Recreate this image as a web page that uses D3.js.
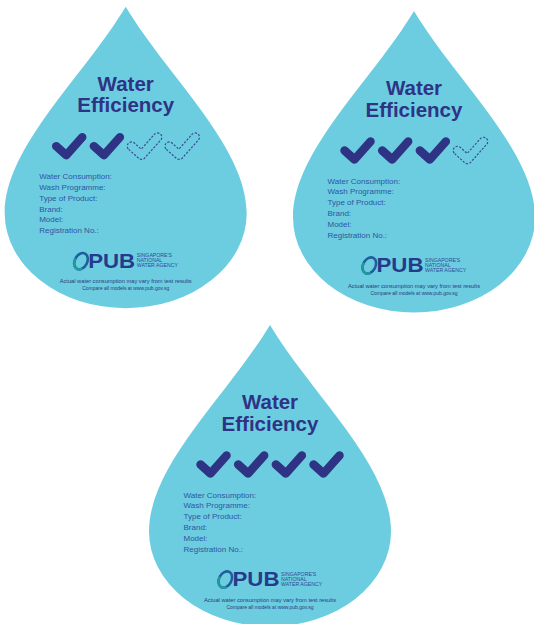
<!DOCTYPE html>
<html>
<head>
<meta charset="utf-8">
<script src="https://cdn.jsdelivr.net/npm/d3@7"></script>
<style>
  body { margin: 0; background: #fff; }
  svg { display: block; }
</style>
</head>
<body>
<script>
let width = 534, height = 624;

// label content
const titleLines = ["Water", "Efficiency"];
const fieldLabels = ["Water Consumption:", "Wash Programme:", "Type of Product:", "Brand:", "Model:", "Registration No.:"];
const ratings = [2, 3, 4];           // ticks earned on each label
const maxTicks = 4;
const agencyLines = ["SINGAPORE'S", "NATIONAL", "WATER AGENCY"];
const footerLines = ["Actual water consumption may vary from test results", "Compare all models at www.pub.gov.sg"];

// where each drop's tip sits on the page
const anchors = [[125.7, 6.7], [414, 11], [270, 325]];

const dropFill = "#6ccde1", navy = "#2f3384", fieldBlue = "#2f55a0";

let svg = d3.select("body").append("svg")
    .attr("width", width)
    .attr("height", height);

// drop outline, relative to the tip
function dropPath() {
    let rx = 121, ry = 95, cy = 206.5;
    let p = d3.path();
    p.moveTo(0, 0);
    p.bezierCurveTo(42, 70, rx, 140, rx, cy);
    return p.toString() + ` A ${rx} ${ry} 0 0 1 ${-rx} ${cy} C ${-rx} 140 -42 70 0 0 Z`;
}

// tick mark polyline, relative to its centre
const A = [-13, 0], B = [-3, 9], C = [13, -9], hw = 4.25;

function tickLine() {
    return `M${A} L${B} L${C}`;
}

// outline of the thick tick, for the empty (dashed) ones
function tickOutline() {
    let unit = (p, q) => { let dx = q[0] - p[0], dy = q[1] - p[1], l = Math.hypot(dx, dy); return [dx / l, dy / l]; };
    let d1 = unit(A, B), d2 = unit(B, C);
    let n1 = [-d1[1], d1[0]], n2 = [-d2[1], d2[0]];
    let off = (p, n, s) => [p[0] + s * hw * n[0], p[1] + s * hw * n[1]];
    let k = hw / (1 + n1[0] * n2[0] + n1[1] * n2[1]);
    let inner = [B[0] - k * (n1[0] + n2[0]), B[1] - k * (n1[1] + n2[1])];
    let pts = [off(A, n1, 1), off(B, n1, 1), off(B, n2, 1), off(C, n2, 1), off(C, n2, -1), inner, off(A, n1, -1)];
    return `M${pts[0]} L${pts[1]} A${hw} ${hw} 0 0 0 ${pts[2]} L${pts[3]} A${hw} ${hw} 0 0 0 ${pts[4]} L${pts[5]} L${pts[6]} A${hw} ${hw} 0 0 0 ${pts[0]} Z`;
}

let tickX = d3.scalePoint().domain(d3.range(maxTicks)).range([-56.5, 56.5]);
let fieldY = d3.scaleLinear().domain([0, fieldLabels.length - 1]).range([172.5, 226.5]);

let drops = svg.selectAll("g.drop")
    .data(ratings)
    .join("g")
    .attr("class", "drop")
    .attr("transform", (d, i) => `translate(${anchors[i][0]},${anchors[i][1]})`);

drops.append("path")
    .attr("d", dropPath())
    .attr("fill", dropFill);

// title
drops.selectAll("text.title")
    .data(titleLines)
    .join("text")
    .attr("class", "title")
    .attr("x", 0)
    .attr("y", (d, i) => 84 + i * 21.5)
    .attr("text-anchor", "middle")
    .attr("font-family", "Liberation Sans, Arial, sans-serif")
    .attr("font-weight", "bold")
    .attr("font-size", 20.5)
    .attr("fill", navy)
    .text(d => d);

// ticks
drops.selectAll("g.tick")
    .data(r => d3.range(maxTicks).map(i => ({ i: i, on: i < r })))
    .join("g")
    .attr("class", "tick")
    .attr("transform", d => `translate(${tickX(d.i)},139.5)`)
    .each(function (d) {
        let g = d3.select(this);
        if (d.on) {
            g.append("path")
                .attr("d", tickLine())
                .attr("fill", "none")
                .attr("stroke", navy)
                .attr("stroke-width", hw * 2)
                .attr("stroke-linecap", "round")
                .attr("stroke-linejoin", "round");
        } else {
            g.append("path")
                .attr("d", tickOutline())
                .attr("fill", "none")
                .attr("stroke", "#3b4a96")
                .attr("stroke-width", 1.2)
                .attr("stroke-dasharray", "2.2,1.5");
        }
    });

// product fields
drops.selectAll("text.field")
    .data(fieldLabels)
    .join("text")
    .attr("class", "field")
    .attr("x", -86.5)
    .attr("y", (d, i) => fieldY(i))
    .attr("font-family", "Liberation Sans, Arial, sans-serif")
    .attr("font-size", 8)
    .attr("fill", fieldBlue)
    .text(d => d);

// PUB logo
let logo = drops.append("g").attr("class", "logo");

let swoosh = logo.append("g").attr("transform", "translate(-44.7,254.5) rotate(28)");
swoosh.append("ellipse")
    .attr("rx", 6.2).attr("ry", 8.6)
    .attr("fill", "none")
    .attr("stroke", "#1f5f9c")
    .attr("stroke-width", 2.6);
swoosh.append("path")
    .attr("d", "M-6.2,0 A6.2 8.6 0 0 0 4.5,6")
    .attr("fill", "none")
    .attr("stroke", "#239b9e")
    .attr("stroke-width", 2.4);

logo.append("text")
    .attr("x", -37.5)
    .attr("y", 261)
    .attr("textLength", 47)
    .attr("lengthAdjust", "spacingAndGlyphs")
    .attr("font-family", "Liberation Sans, Arial, sans-serif")
    .attr("font-weight", "bold")
    .attr("font-size", 21)
    .attr("fill", "#263a8c")
    .text("PUB");

logo.selectAll("text.agency")
    .data(agencyLines)
    .join("text")
    .attr("class", "agency")
    .attr("x", 11)
    .attr("y", (d, i) => 250.5 + i * 5)
    .attr("font-family", "Liberation Sans, Arial, sans-serif")
    .attr("font-size", 5.2)
    .attr("fill", "#2f4a96")
    .text(d => d);

// footer
drops.selectAll("text.footer")
    .data(footerLines)
    .join("text")
    .attr("class", "footer")
    .attr("x", 0)
    .attr("y", (d, i) => 276.5 + i * 7)
    .attr("text-anchor", "middle")
    .attr("textLength", (d, i) => i === 0 ? 132 : 87)
    .attr("lengthAdjust", "spacingAndGlyphs")
    .attr("font-family", "Liberation Sans, Arial, sans-serif")
    .attr("font-size", 5.2)
    .attr("fill", "#2b3a7e")
    .text(d => d);
</script>
</body>
</html>
